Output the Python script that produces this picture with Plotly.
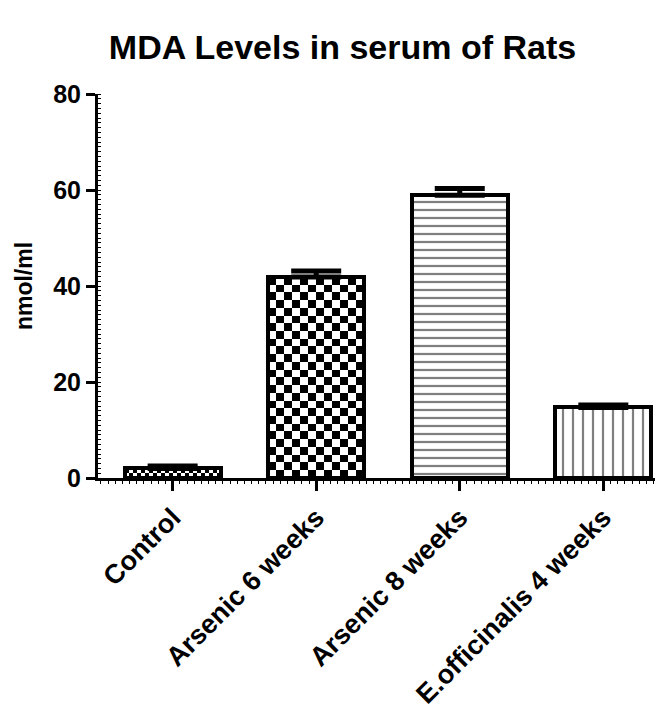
import plotly.graph_objects as go
import numpy as np

categories = ["Control", "Arsenic 6 weeks", "Arsenic 8 weeks", "E.officinalis 4 weeks"]
values = [2.0, 41.9, 58.9, 14.7]
errors = [0.5, 1.2, 1.4, 0.5]
y_ticks = [0, 20, 40, 60, 80]

xpos = list(range(len(categories)))
bar_w = 0.67

fig = go.Figure()

# checkerboard fills (Control, Arsenic 6 weeks)
checker = {0: (24, 0.8), 1: (12, 1.6)}
for i, (ncols, cell_h) in checker.items():
    v = values[i]
    nrows = max(1, int(round(v / cell_h)))
    xe = np.linspace(xpos[i] - bar_w / 2, xpos[i] + bar_w / 2, ncols + 1)
    ye = np.linspace(0, v, nrows + 1)
    xc = (xe[:-1] + xe[1:]) / 2
    yc = (ye[:-1] + ye[1:]) / 2
    z = [[(r + c) % 2 for c in range(ncols)] for r in range(nrows)]
    fig.add_trace(go.Heatmap(x=xc, y=yc, z=z, colorscale=[[0, "white"], [1, "black"]],
                             showscale=False, hoverinfo="skip", zmin=0, zmax=1))

patterns = ["", "", "-", "|"]
sizes = [8, 8, 8, 10]
solid = [0.2, 0.2, 0.28, 0.22]
for i in range(len(categories)):
    fill = "rgba(0,0,0,0)" if patterns[i] == "" else "white"
    fig.add_trace(go.Bar(
        x=[xpos[i]], y=[values[i]], width=bar_w,
        marker=dict(color=fill, line=dict(color="black", width=4),
                    pattern=dict(shape=patterns[i], size=sizes[i], solidity=solid[i],
                                 fgcolor="black", bgcolor="white") if patterns[i] else None),
        error_y=dict(type="data", array=[errors[i]], arrayminus=[0], symmetric=False,
                     color="black", thickness=5, width=25),
        showlegend=False,
    ))

fig.update_layout(
    width=669, height=716,
    margin=dict(l=90, r=22, t=86, b=246),
    plot_bgcolor="white", paper_bgcolor="white",
    font=dict(family="Liberation Sans, Arial, sans-serif", color="black"),
    title=dict(text="<b>MDA Levels in serum of Rats</b>", x=0.5, xanchor="center",
               y=0.946, yanchor="middle", font=dict(size=34)),
    bargap=0,
)
fig.update_xaxes(
    range=[-0.52, 3.36], tickvals=xpos, ticktext=[f"<b>{c}</b>" for c in categories],
    tickangle=-45, tickfont=dict(size=27), showline=True, linecolor="black", linewidth=3,
    ticks="outside", ticklen=10, tickwidth=3, tickcolor="black", showgrid=False, zeroline=False,
    automargin=False,
    minor=dict(ticks="outside", dtick=0.05, ticklen=3, tickwidth=1, tickcolor="black"),
)
fig.update_yaxes(
    range=[0, 80], tickvals=y_ticks, ticktext=[f"<b>{t}</b>" for t in y_ticks],
    tickfont=dict(size=25), showline=True, linecolor="black", linewidth=3,
    ticks="outside", ticklen=9, tickwidth=3, tickcolor="black", showgrid=False, zeroline=False,
    automargin=False,
    title=dict(text="<b>nmol/ml</b>", font=dict(size=23), standoff=15),
    minor=dict(ticks="inside", dtick=1, ticklen=3, tickwidth=1, tickcolor="black"),
)

fig.write_html("out.html")
